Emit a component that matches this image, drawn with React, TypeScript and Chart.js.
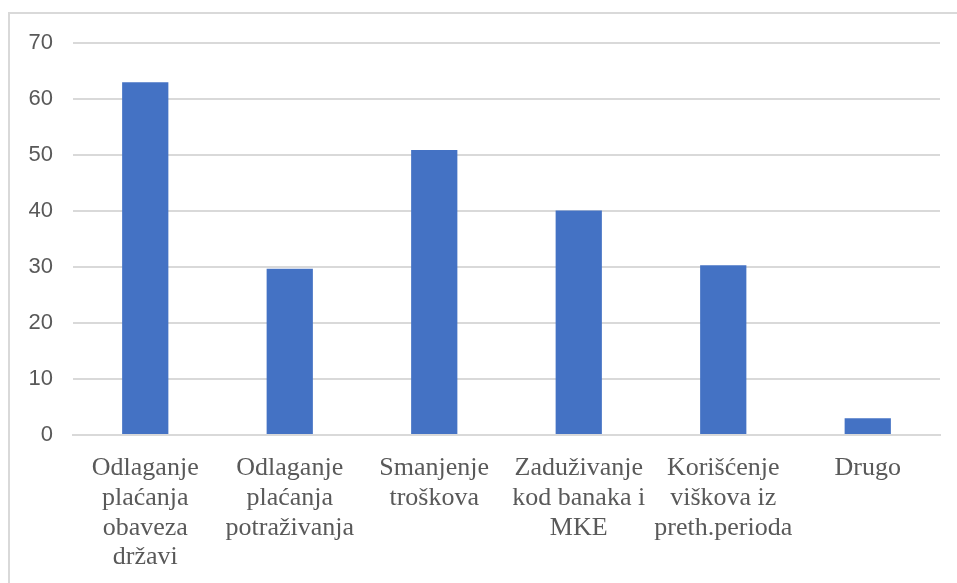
import React, { useEffect, useRef } from "react";
import { Chart, registerables } from "chart.js";

Chart.register(...registerables);

const categories: string[][] = [
  ["Odlaganje", "plaćanja", "obaveza", "državi"],
  ["Odlaganje", "plaćanja", "potraživanja"],
  ["Smanjenje", "troškova"],
  ["Zaduživanje", "kod banaka i", "MKE"],
  ["Korišćenje", "viškova iz", "preth.perioda"],
  ["Drugo"],
];
const values: number[] = [63, 29.7, 50.9, 40.1, 30.3, 3];
const yMin = 0;
const yMax = 70;
const yStep = 10;

export default function App() {
  const ref = useRef<HTMLCanvasElement | null>(null);
  useEffect(() => {
    if (!ref.current) return;
    const chart = new Chart(ref.current, {
      type: "bar",
      data: {
        labels: categories,
        datasets: [
          {
            data: values,
            backgroundColor: "#4472C4",
            barPercentage: 0.32,
            categoryPercentage: 1,
          },
        ],
      },
      options: {
        animation: false,
        responsive: false,
        maintainAspectRatio: false,
        layout: { padding: { top: 43, left: 0, right: 17, bottom: 0 } },
        plugins: { legend: { display: false }, tooltip: { enabled: false } },
        scales: {
          x: {
            grid: { display: false, drawTicks: false },
            border: { display: true, color: "#d9d9d9", width: 2 },
            ticks: {
              color: "#595959",
              font: { family: "'Liberation Serif', 'Times New Roman', serif", size: 26, lineHeight: 1.15 },
              padding: 18,
              maxRotation: 0,
              autoSkip: false,
            },
            afterFit: (s: any) => {
              s.height = 148;
            },
          },
          y: {
            min: yMin,
            max: yMax,
            grid: { color: "#d9d9d9", lineWidth: 2, drawTicks: false },
            border: { display: false },
            ticks: {
              stepSize: yStep,
              color: "#595959",
              font: { family: "'Liberation Sans', Arial, sans-serif", size: 22 },
              padding: 20,
            },
            afterFit: (s: any) => {
              s.width = 73;
            },
          },
        },
      },
    });
    return () => chart.destroy();
  }, []);
  return (
    <div
      style={{
        position: "fixed",
        left: 0,
        top: 0,
        width: 957,
        height: 583,
        overflow: "hidden",
        background: "#fff",
      }}
    >
      <div
        style={{
          position: "absolute",
          left: 8,
          top: 12,
          width: 980,
          height: 620,
          border: "2px solid #d9d9d9",
          boxSizing: "border-box",
        }}
      />
      <canvas
        ref={ref}
        width={957}
        height={583}
        style={{ position: "absolute", left: 0, top: 0, width: 957, height: 583 }}
      />
    </div>
  );
}
